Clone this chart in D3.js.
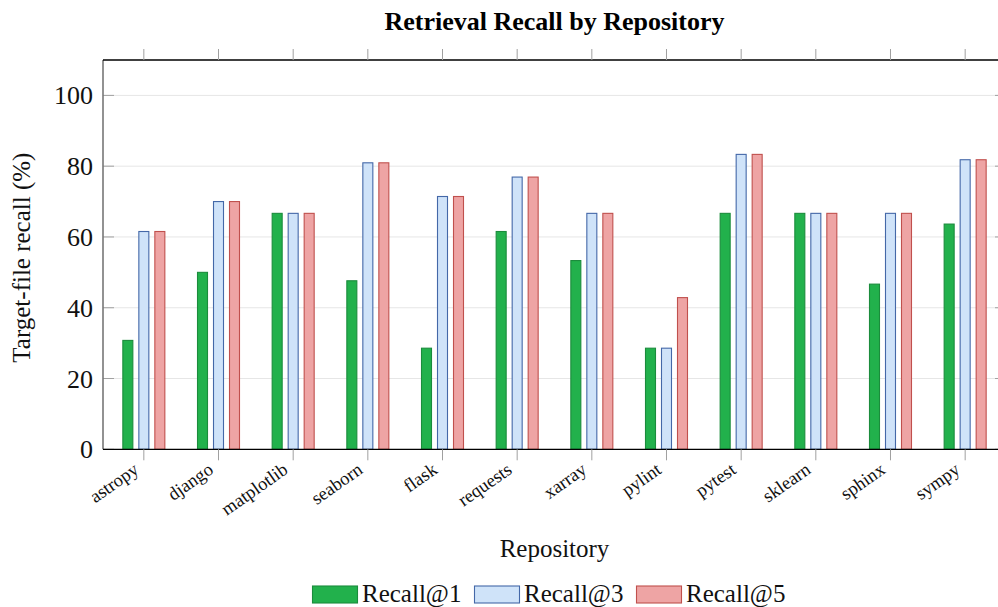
<!DOCTYPE html>
<html><head><meta charset="utf-8">
<script src="https://cdn.jsdelivr.net/npm/d3@7"></script>
<style>body{margin:0;background:#fff}svg{display:block}</style>
</head><body>
<svg id="c" width="998" height="607"></svg>
<script>
const categories = ["astropy","django","matplotlib","seaborn","flask","requests","xarray","pylint","pytest","sklearn","sphinx","sympy"];
const seriesNames = ["Recall@1","Recall@3","Recall@5"];
const recall1 = [30.77,50.0,66.67,47.62,28.57,61.54,53.33,28.57,66.67,66.67,46.67,63.64];
const recall3 = [61.54,70.0,66.67,80.95,71.43,76.92,66.67,28.57,83.33,66.67,66.67,81.82];
const recall5 = [61.54,70.0,66.67,80.95,71.43,76.92,66.67,42.86,83.33,66.67,66.67,81.82];
const yTicks = [0,20,40,60,80,100];
const fills = ["#22b14c","#cfe3f9","#eea4a4"];
const strokes = ["#1b8c3c","#4468a8","#c0504d"];

const svg = d3.select("#c");
const L = 103, R = 1006, T = 60, B = 449.3;
const font = "'Liberation Serif','Times New Roman',serif";

const x = d3.scaleBand().domain(categories).range([L, R]).paddingInner(0).paddingOuter(0.047);
const xs = d3.scaleBand().domain(seriesNames).range([-21.5, 21.5]).paddingInner(0.3125).paddingOuter(0);
const y = d3.scaleLinear().domain([0, 110]).range([B, T]);
const color = d3.scaleOrdinal().domain(seriesNames).range(fills);
const scol = d3.scaleOrdinal().domain(seriesNames).range(strokes);

// grid
svg.append("g").selectAll("line").data(yTicks.filter(d=>d>0)).join("line")
  .attr("x1", L).attr("x2", R).attr("y1", d=>y(d)).attr("y2", d=>y(d))
  .attr("stroke", "#e6e6e6").attr("stroke-width", 1);

// y ticks inside left & right
svg.append("g").selectAll("line").data(yTicks).join("line")
  .attr("x1", L).attr("x2", L+11).attr("y1", d=>y(d)).attr("y2", d=>y(d))
  .attr("stroke", "#a0a0a0").attr("stroke-width", 1);
svg.append("g").selectAll("line").data(yTicks).join("line")
  .attr("x1", R-11).attr("x2", R).attr("y1", d=>y(d)).attr("y2", d=>y(d))
  .attr("stroke", "#a0a0a0").attr("stroke-width", 1);

// bars
const data = categories.map((c,i)=>({c, vals:[recall1[i],recall3[i],recall5[i]]}));
const g = svg.append("g").selectAll("g").data(data).join("g")
  .attr("transform", d=>`translate(${x(d.c)+x.bandwidth()/2},0)`);
g.selectAll("rect").data(d=>d.vals.map((v,k)=>({s:seriesNames[k], v}))).join("rect")
  .attr("x", d=>xs(d.s)+0.5).attr("width", xs.bandwidth()-1)
  .attr("y", d=>y(d.v)).attr("height", d=>B-y(d.v))
  .attr("fill", d=>color(d.s)).attr("stroke", d=>scol(d.s)).attr("stroke-width", 1.1);

// frame
svg.append("line").attr("x1",L).attr("x2",L).attr("y1",T).attr("y2",B).attr("stroke","#777").attr("stroke-width",1.6);
svg.append("line").attr("x1",L).attr("x2",R).attr("y1",T).attr("y2",T).attr("stroke","#000").attr("stroke-width",1.3);
svg.append("line").attr("x1",L).attr("x2",R).attr("y1",B).attr("y2",B).attr("stroke","#000").attr("stroke-width",1.3);
svg.append("line").attr("x1",R).attr("x2",R).attr("y1",T).attr("y2",B).attr("stroke","#000").attr("stroke-width",1.3);

// x ticks top & bottom (outward)
const cx = d=>x(d)+x.bandwidth()/2;
svg.append("g").selectAll("line").data(categories).join("line")
  .attr("x1", cx).attr("x2", cx).attr("y1", T-11).attr("y2", T)
  .attr("stroke", "#a0a0a0").attr("stroke-width", 1);
svg.append("g").selectAll("line").data(categories).join("line")
  .attr("x1", cx).attr("x2", cx).attr("y1", B).attr("y2", B+11)
  .attr("stroke", "#a0a0a0").attr("stroke-width", 1);

// y tick labels
svg.append("g").selectAll("text").data(yTicks).join("text")
  .attr("x", 93).attr("y", d=>y(d)+9).attr("text-anchor","end")
  .attr("font-family", font).attr("font-size", 26).attr("fill","#111").text(d=>d);

// x labels rotated
svg.append("g").selectAll("text").data(categories).join("text")
  .attr("transform", d=>`translate(${cx(d)-4},${B+23}) rotate(-35)`)
  .attr("text-anchor","end").attr("font-family", font).attr("font-size", 18.5).attr("fill","#111")
  .text(d=>d);

// axis titles
svg.append("text").attr("x", (L+R)/2).attr("y", 557).attr("text-anchor","middle")
  .attr("font-family", font).attr("font-size", 25).attr("fill","#111").text("Repository");
svg.append("text").attr("transform", `translate(30,${(T+B)/2+3}) rotate(-90)`).attr("text-anchor","middle")
  .attr("font-family", font).attr("font-size", 25).attr("fill","#111").text("Target-file recall (%)");

// title
svg.append("text").attr("x", (L+R)/2).attr("y", 30).attr("text-anchor","middle")
  .attr("font-family", font).attr("font-size", 26).attr("font-weight","bold").attr("fill","#000")
  .text("Retrieval Recall by Repository");

// legend
const legX = [312, 474, 636];
const lg = svg.append("g").selectAll("g").data(seriesNames).join("g")
  .attr("transform", (d,i)=>`translate(${legX[i]},586)`);
lg.append("rect").attr("x",0.5).attr("y",0).attr("width",45).attr("height",17)
  .attr("fill", d=>color(d)).attr("stroke", d=>scol(d)).attr("stroke-width",1.1);
lg.append("text").attr("x", 50).attr("y", 16).attr("font-family", font).attr("font-size", 25).attr("fill","#111").text(d=>d);
</script>
</body></html>
